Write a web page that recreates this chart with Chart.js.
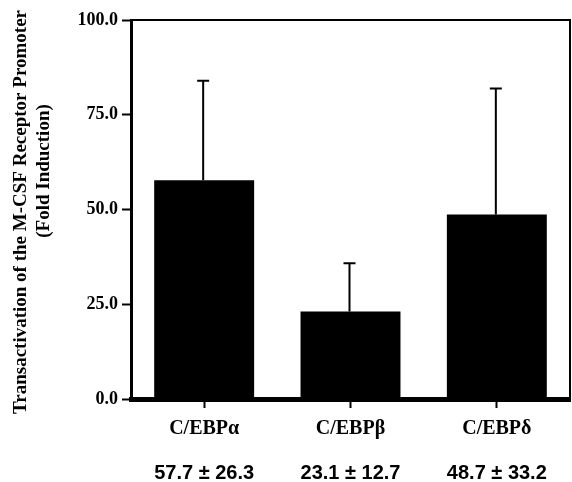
<!DOCTYPE html>
<html>
<head>
<meta charset="utf-8">
<script src="https://cdn.jsdelivr.net/npm/chart.js@4.4.1/dist/chart.umd.min.js"></script>
<style>
  html, body { margin: 0; padding: 0; background: #fff; }
  #wrap { width: 572px; height: 482px; position: relative; }
</style>
</head>
<body>
<div id="wrap"><canvas id="chart"></canvas></div>
<script>
// data
const categories = ['C/EBPα', 'C/EBPβ', 'C/EBPδ'];
const foldInduction = [57.7, 23.1, 48.7];
const errors = [26.3, 12.7, 33.2];
const yTicks = [0, 25, 50, 75, 100];
const yTitle = ['Transactivation of the M-CSF Receptor Promoter', '(Fold Induction)'];

const statLabels = foldInduction.map((v, i) => v.toFixed(1) + ' ± ' + errors[i].toFixed(1));

const SERIF = '"Liberation Serif", "Times New Roman", serif';
const SANS = '"Liberation Sans", Arial, sans-serif';

/** Upper-only error bars, drawn from the bar elements */
const errorBars = {
    id: 'errorBars',
    afterDatasetsDraw(chart) {
        const { ctx, scales: { y } } = chart;
        const meta = chart.getDatasetMeta(0);
        ctx.save();
        ctx.strokeStyle = '#000';
        ctx.lineWidth = 2;
        meta.data.forEach((bar, i) => {
            const top = y.getPixelForValue(foldInduction[i] + errors[i]);
            const x = bar.x - 1;
            ctx.beginPath();
            ctx.moveTo(x, bar.y);
            ctx.lineTo(x, top);
            ctx.moveTo(x - 6, top);
            ctx.lineTo(x + 6, top);
            ctx.stroke();
        });
        ctx.restore();
    }
};

/** Top / right frame lines and the rotated y title */
const frame = {
    id: 'frame',
    afterDraw(chart) {
        const { ctx, chartArea: a } = chart;
        ctx.save();
        ctx.strokeStyle = '#000';
        ctx.lineWidth = 2;
        ctx.beginPath();
        ctx.moveTo(a.left - 1, a.top);
        ctx.lineTo(a.right, a.top);
        ctx.lineTo(a.right, a.bottom);
        ctx.stroke();

        ctx.fillStyle = '#000';
        ctx.font = 'bold 19px ' + SERIF;
        ctx.textAlign = 'center';
        ctx.textBaseline = 'middle';
        ctx.translate(21, 212);
        ctx.rotate(-Math.PI / 2);
        ctx.fillText(yTitle[0], 0, 0);
        ctx.fillText(yTitle[1], 41, 23);
        ctx.restore();
    }
};

new Chart(document.getElementById('chart'), {
    type: 'bar',
    data: {
        labels: categories,
        datasets: [{
            data: foldInduction,
            backgroundColor: '#000',
            borderWidth: 0,
            barPercentage: 0.683,
            categoryPercentage: 1
        }]
    },
    options: {
        responsive: true,
        maintainAspectRatio: false,
        animation: false,
        layout: { padding: { left: 0, top: 20, right: 2, bottom: 0 } },
        plugins: { legend: { display: false }, tooltip: { enabled: false } },
        scales: {
            y: {
                min: 0,
                max: 100,
                afterBuildTicks: (scale) => { scale.ticks = yTicks.map(v => ({ value: v })); },
                afterFit: (scale) => { scale.width = 131; },
                ticks: {
                    color: '#000',
                    padding: 4,
                    font: { family: SERIF, size: 18, weight: 'bold' },
                    callback: (v) => Number(v).toFixed(1)
                },
                grid: { drawOnChartArea: false, tickLength: 9, tickWidth: 2, tickColor: '#000' },
                border: { display: true, color: '#000', width: 3 }
            },
            x: {
                weight: 0,
                afterFit: (scale) => { scale.height = 40; },
                ticks: {
                    color: '#000',
                    padding: 9,
                    font: { family: SERIF, size: 20, weight: 'bold' }
                },
                grid: { drawOnChartArea: false, offset: false, tickLength: 9, tickWidth: 2, tickColor: '#000' },
                border: { display: true, color: '#000', width: 5 }
            },
            x2: {
                type: 'category',
                position: 'bottom',
                weight: 1,
                labels: statLabels,
                offset: true,
                afterFit: (scale) => { scale.height = 43; },
                ticks: {
                    color: '#000',
                    padding: 22,
                    font: { family: SANS, size: 20, weight: 'bold' }
                },
                grid: { display: false, drawTicks: false },
                border: { display: false }
            }
        }
    },
    plugins: [errorBars, frame]
});
</script>
</body>
</html>
